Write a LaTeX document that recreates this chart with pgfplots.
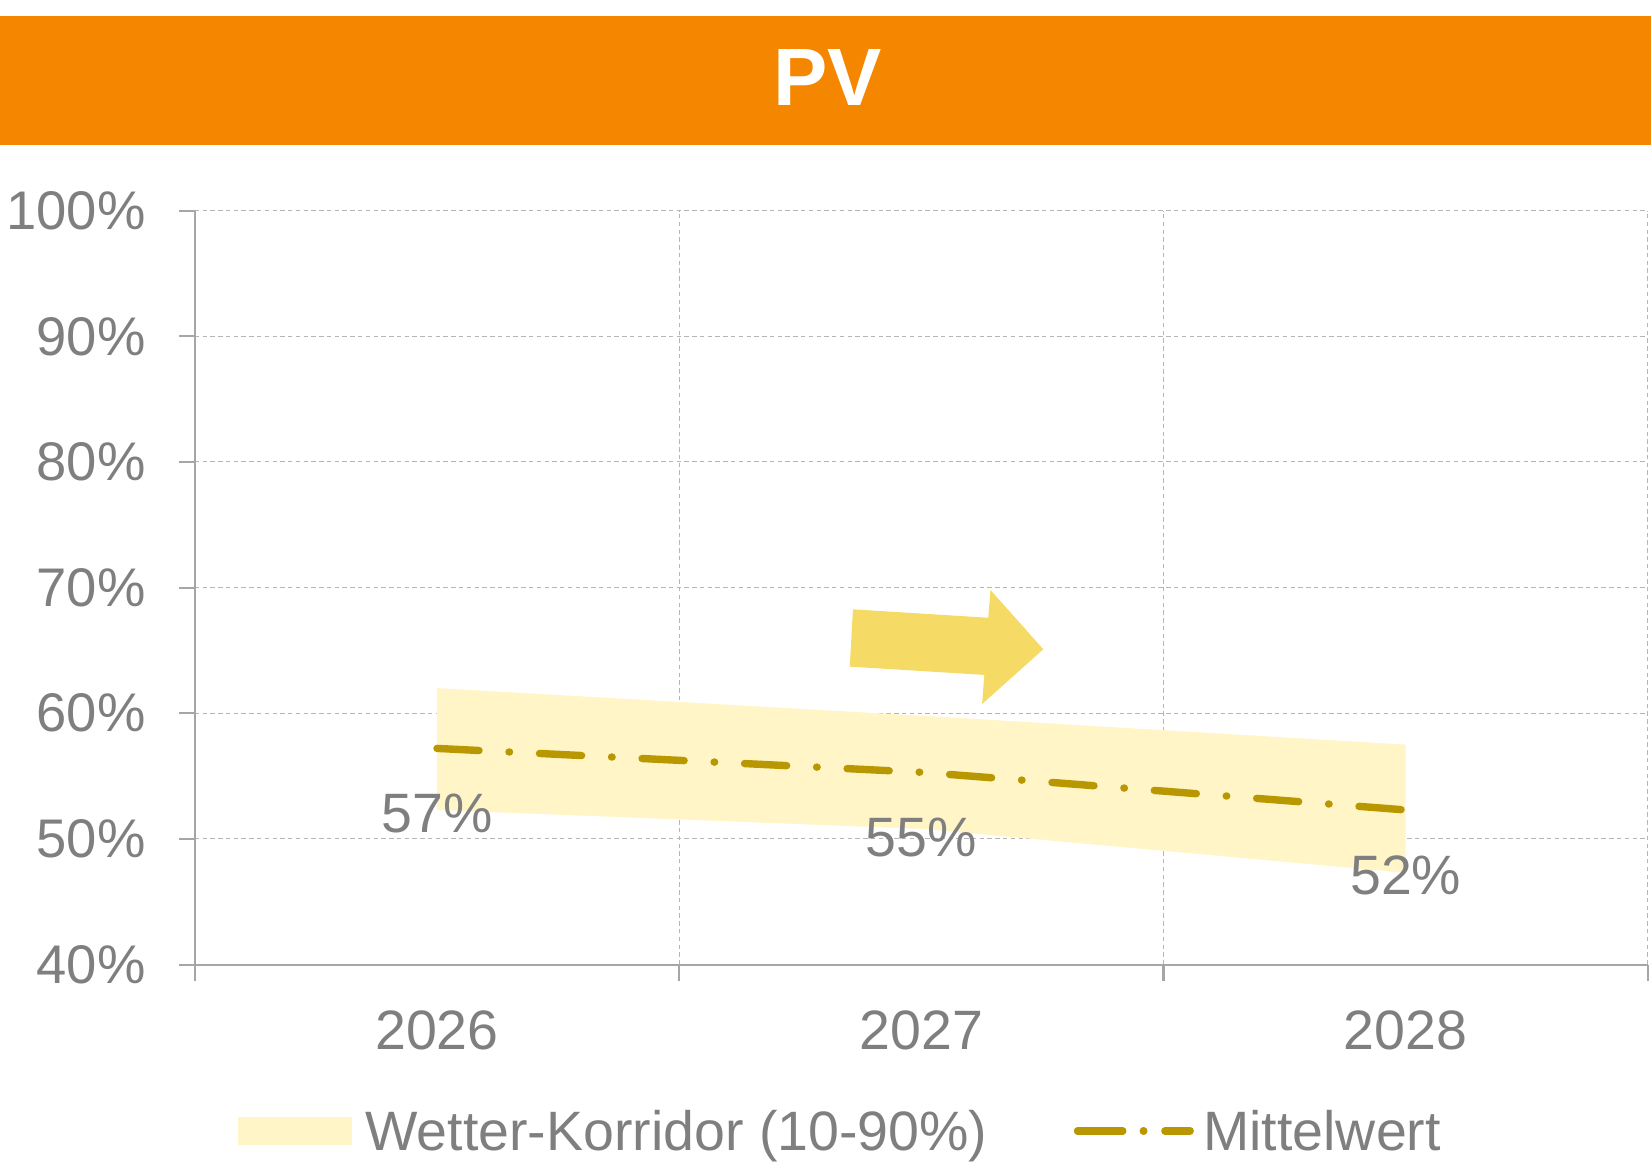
\documentclass[border=0pt]{standalone}
\usepackage{pgfplots}
\pgfplotsset{compat=1.18}
\usepackage{fontspec}
\setmainfont{Liberation Sans}
\definecolor{pvorange}{HTML}{F58600}
\definecolor{txtgray}{HTML}{7F7F7F}
\definecolor{axgray}{HTML}{A6A6A6}
\definecolor{gridgray}{HTML}{B5B5B5}
\definecolor{bandcol}{HTML}{FFF5C6}
\definecolor{arrowcol}{HTML}{F6DA66}
\definecolor{linecol}{HTML}{B99700}
\newcommand{\lblfont}{\fontsize{15}{18}\selectfont}
\newcommand{\yfont}{\fontsize{14.7}{18}\selectfont}

\begin{document}
\begin{tikzpicture}
\useasboundingbox (0,0) rectangle (15.68,-11.16);
\fill[pvorange] (0,-0.15) rectangle (15.68,-1.38);
\node[anchor=base, text=white, font=\fontsize{22}{26}\selectfont\bfseries, inner sep=0pt] at (7.86,-1.00) {PV};
\begin{axis}[
  at={(1.85cm,-9.16cm)}, anchor=south west,
  scale only axis, width=13.8cm, height=7.16cm,
  xmin=-0.5, xmax=2.5, ymin=40, ymax=100,
  axis lines=left,
  axis line style={axgray, line width=0.55pt, -},
  xtick={0,1,2}, xticklabels={2026,2027,2028},
  minor xtick={-0.5,0.5,1.5,2.5},
  ytick={40,50,60,70,80,90,100},
  yticklabels={40\%,50\%,60\%,70\%,80\%,90\%,100\%},
  ymajorgrids, xminorgrids,
  major grid style={gridgray, line width=0.3pt, dash pattern=on 1.2pt off 0.9pt},
  minor grid style={gridgray, line width=0.3pt, dash pattern=on 1.2pt off 0.9pt},
  tick align=outside,
  major tick length=0.15cm, minor tick length=0.16cm,
  tick style={axgray, line width=0.55pt},
  major x tick style={draw=none},
  ticklabel style={font=\lblfont, text=txtgray, inner sep=0pt},
  yticklabel style={font=\yfont, xshift=-0.31cm},
  xticklabel style={yshift=-0.28cm},
  clip=false,
  legend columns=2,
  legend style={at={(axis description cs:0.0297,-0.2207)}, anchor=west,
    draw=none, fill=none, inner sep=0pt, outer sep=0pt, font=\lblfont, text=txtgray,
    column sep=0.13cm, /tikz/every even column/.append style={column sep=0.82cm},
    /tikz/column 3/.style={column sep=0.09cm},
    nodes={inner sep=0pt, text height=0.375cm, text depth=0pt}},
  legend cell align=left,
]
\addplot[fill=bandcol, draw=none,
  legend image code/.code={\fill[bandcol] (0cm,-0.135cm) rectangle (1.08cm,0.135cm);}]
  coordinates {(0,62.0) (1,59.8) (2,57.5) (2,47.3) (1,50.8) (0,52.3)} -- cycle;
\addlegendentry{Wetter-Korridor (10-90\%)}
\addplot[linecol, line width=2pt, line cap=round,
  dash pattern=on 0.40cm off 0.285cm on 0.005cm off 0.285cm,
  nodes near coords, point meta=explicit symbolic,
  every node near coord/.style={font=\lblfont, text=txtgray, inner sep=0pt, anchor=base, yshift=-0.80cm},
  legend image code/.code={\draw[linecol, line width=2pt, line cap=round, dash pattern=on 0.43cm off 0.195cm on 0.005cm off 0.2cm] (0.03cm,0cm) -- (1.10cm,0cm);}]
  coordinates {(0,57.2) [57\%] (1,55.3) [55\%] (2,52.3) [52\%]};
\addlegendentry{Mittelwert}
\fill[arrowcol] (axis cs:0.8588,68.27) -- (axis cs:1.1382,67.60) -- (axis cs:1.1427,69.81)
  -- (axis cs:1.2518,65.09) -- (axis cs:1.1254,60.73) -- (axis cs:1.1301,63.05)
  -- (axis cs:0.8523,63.71) -- cycle;
\end{axis}
\end{tikzpicture}
\end{document}
